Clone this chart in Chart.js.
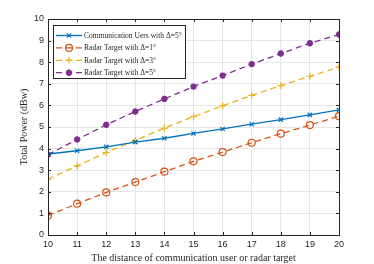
<!DOCTYPE html>
<html><head><meta charset="utf-8">
<script src="https://cdn.jsdelivr.net/npm/chart.js@4/dist/chart.umd.min.js"></script>
<style>html,body{margin:0;padding:0;background:#fff;}#wrap{width:374px;height:264px;}</style>
</head><body><div id="wrap"><canvas id="c" width="374" height="264"></canvas></div>
<script>
const distances = [10, 11, 12, 13, 14, 15, 16, 17, 18, 19, 20];
const commUsers5 = [3.75, 3.9, 4.08, 4.3, 4.48, 4.7, 4.91, 5.13, 5.34, 5.56, 5.79];
const radar1 = [0.9, 1.45, 1.97, 2.45, 2.93, 3.41, 3.84, 4.27, 4.69, 5.09, 5.5];
const radar3 = [2.58, 3.2, 3.82, 4.38, 4.95, 5.48, 5.98, 6.46, 6.92, 7.35, 7.77];
const radar5 = [3.72, 4.42, 5.1, 5.72, 6.3, 6.87, 7.38, 7.91, 8.4, 8.88, 9.28];
const seriesNames = ['Communication Uers with \u0394=5\u00b0', 'Radar Target with \u0394=1\u00b0', 'Radar Target with \u0394=3\u00b0', 'Radar Target with \u0394=5\u00b0'];
const xTitle = 'The distance of communication user or radar target';
const yTitle = 'Total Power (dBw)';

const colors = ['#0072BD', '#D95319', '#EDB120', '#7E2F8E'];
const styles = [
  {pointStyle:'crossRot', radius:3, dash:[], fill:false, bw:1.2},
  {pointStyle:'circle', radius:3.5, dash:[6,4], fill:false, bw:1.2},
  {pointStyle:'cross', radius:3.5, dash:[6,4], fill:false, bw:1.2},
  {pointStyle:'star', radius:3.2, dash:[6,4], fill:true, bw:2}
];
const allData = [commUsers5, radar1, radar3, radar5];

const datasets = allData.map((d,i)=>({
  label: seriesNames[i],
  data: distances.map((x,j)=>({x:x,y:d[j]})),
  borderColor: colors[i],
  backgroundColor: styles[i].fill ? colors[i] : 'rgba(0,0,0,0)',
  borderWidth: 1.3,
  borderDash: styles[i].dash,
  pointStyle: styles[i].pointStyle,
  pointRadius: styles[i].radius,
  pointBorderWidth: styles[i].bw,
  pointBorderColor: colors[i],
  pointBackgroundColor: styles[i].fill ? colors[i] : 'rgba(0,0,0,0)',
  tension: 0
}));

const frame = {
  id:'frame',
  afterDraw(chart){
    const {ctx, chartArea:a} = chart;
    ctx.save();
    ctx.strokeStyle = '#262626';
    ctx.lineWidth = 1;
    ctx.strokeRect(Math.round(a.left)+0.5, Math.round(a.top)+0.5, Math.round(a.right-a.left), Math.round(a.bottom-a.top));
    const xs = chart.scales.x, ys = chart.scales.y;
    ctx.beginPath();
    for (let v=10; v<=20; v++){
      const px = Math.round(xs.getPixelForValue(v))+0.5;
      ctx.moveTo(px, a.bottom); ctx.lineTo(px, a.bottom-3);
      ctx.moveTo(px, a.top); ctx.lineTo(px, a.top+3);
    }
    for (let v=0; v<=10; v++){
      const py = Math.round(ys.getPixelForValue(v))+0.5;
      ctx.moveTo(a.left, py); ctx.lineTo(a.left+3, py);
      ctx.moveTo(a.right, py); ctx.lineTo(a.right-3, py);
    }
    ctx.stroke();
    // legend
    const lx = 53, ly = 25, lw = 132, lh = 53;
    ctx.fillStyle = '#fff';
    ctx.fillRect(lx, ly, lw, lh);
    ctx.strokeStyle = '#262626';
    ctx.strokeRect(lx+0.5, ly+0.5, lw, lh);
    let fs = 9;
    const fam = '"Liberation Serif", "Times New Roman", serif';
    ctx.font = fs + 'px ' + fam;
    const w0 = ctx.measureText(seriesNames[0]).width;
    fs = fs * 98 / w0;
    ctx.font = fs.toFixed(2) + 'px ' + fam;
    ctx.textBaseline = 'middle';
    for (let i=0;i<4;i++){
      const y = ly + 10.5 + i*12.4;
      ctx.strokeStyle = colors[i];
      ctx.lineWidth = 1.3;
      ctx.setLineDash(styles[i].dash.length ? [6,4] : []);
      ctx.beginPath(); ctx.moveTo(56, y); ctx.lineTo(82, y); ctx.stroke();
      ctx.setLineDash([]);
      ctx.fillStyle = styles[i].fill ? colors[i] : 'rgba(0,0,0,0)';
      ctx.strokeStyle = colors[i];
      ctx.lineWidth = styles[i].bw;
      Chart.helpers.drawPoint(ctx, {pointStyle: styles[i].pointStyle, radius: styles[i].radius, rotation:0, borderWidth: styles[i].bw}, 69, y);
      ctx.fillStyle = '#262626';
      ctx.fillText(seriesNames[i], 84, y+0.5);
    }
    ctx.restore();
  }
};

new Chart(document.getElementById('c'), {
  type:'line',
  data:{datasets},
  options:{
    responsive:false,
    animation:false,
    devicePixelRatio:1,
    layout:{padding:{left:18, right:35, top:19, bottom:0}},
    plugins:{legend:{display:false}, tooltip:{enabled:false}},
    scales:{
      x:{
        type:'linear', min:10, max:20,
        ticks:{stepSize:1, color:'#262626', font:{family:'"Liberation Sans", Arial, sans-serif', size:9}, padding:4, maxRotation:0},
        grid:{color:'#e6e6e6', drawTicks:false},
        border:{display:false},
        title:{display:true, text:xTitle, color:'#262626', font:{family:'"Liberation Serif", "Times New Roman", serif', size:10}, padding:{top:1,bottom:0}},
        afterFit(s){ s.height = 29; }
      },
      y:{
        min:0, max:10,
        ticks:{stepSize:1, color:'#262626', font:{family:'"Liberation Sans", Arial, sans-serif', size:9}, padding:4},
        grid:{color:'#e6e6e6', drawTicks:false},
        border:{display:false},
        title:{display:true, text:yTitle, color:'#262626', font:{family:'"Liberation Serif", "Times New Roman", serif', size:10}, padding:{top:0,bottom:2}},
        afterFit(s){ s.width = 30; }
      }
    }
  },
  plugins:[frame]
});
</script>
</body></html>
